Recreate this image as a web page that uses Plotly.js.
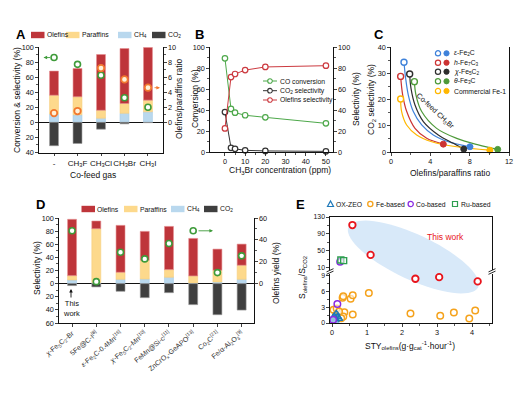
<!DOCTYPE html>
<html><head><meta charset="utf-8">
<script src="https://cdn.plot.ly/plotly-3.0.1.min.js"></script>
<style>html,body{margin:0;padding:0;background:#fff}#chart{width:523px;height:393px}</style>
</head><body><div id="chart"></div>
<script>
// ---------- Panel A data ----------
const aCats = ['-', 'CH3F', 'CH3Cl', 'CH3Br', 'CH3I'];
const aTickText = ['-', 'CH<sub>3</sub>F', 'CH<sub>3</sub>Cl', 'CH<sub>3</sub>Br', 'CH<sub>3</sub>I'];
const aCH4 = [11, 10, 5.5, 12, 14];
const aParaffins = [25, 24, 10.5, 13, 15.5];
const aOlefins = [32, 37.5, 74, 73, 70];
const aCO2 = [-31, -28, -9, -2, -0.4];
const aConversion = [86, 77, 62.6, 32.6, 20];
const aRatio = [1.23, 1.5, 7.2, 5.7, 4.6];

// ---------- Panel B data ----------
const bConc = [0, 3, 5, 10, 20, 50];
const bCOconv = [89.2, 41, 37.5, 35, 33, 27.3];
const bCO2sel = [38, 4, 3, 1.6, 1, 0.6];
const bOlefSel = [22.5, 71.4, 74.3, 78, 81, 82.2];

// ---------- Panel C data (curves; first = no CH3Br, last = co-feed CH3Br) ----------
const cEpsX = [1.32, 1.49, 1.76, 2.27, 3.12, 4.3, 5.83, 8.03];
const cEpsY = [34.2, 28.1, 21.7, 15.4, 10.3, 6.5, 3.9, 2.0];
const cHX = [0.98, 1.19, 1.6, 2.44, 3.63, 5.32];
const cHY = [28.8, 21.7, 15.4, 9.0, 5.2, 3.0];
const cChiX = [1.9, 2.03, 2.44, 3.29, 4.81, 6.34, 7.4];
const cChiY = [29.7, 24.3, 17.9, 11.6, 6.5, 3.3, 1.1];
const cThetaX = [2.38, 2.54, 3.12, 4.64, 6.68, 8.88, 10.85];
const cThetaY = [26.8, 21.7, 15.4, 9.0, 5.2, 2.7, 1.0];
const cComX = [0.98, 1.08, 1.59, 2.61, 4.14, 6.68, 10.05];
const cComY = [20.2, 15.4, 10.3, 6.5, 3.9, 2.0, 0.7];
const cLabels = ['<i>ε</i>-Fe<sub>2</sub>C', '<i>h</i>-Fe<sub>7</sub>C<sub>3</sub>', '<i>χ</i>-Fe<sub>5</sub>C<sub>2</sub>', '<i>θ</i>-Fe<sub>3</sub>C', 'Commercial Fe-1'];

// ---------- Panel D data ----------
const dCats = ['c1','c2','c3','c4','c5','c6','c7','c8'];
const dTickText = ['<i>χ</i>-Fe<sub>5</sub>C<sub>2</sub>-Br', '5Fe@C-I<sup>[8]</sup>', '<i>ε</i>-Fe<sub>2</sub>C-0.4Mn<sup>[16]</sup>', '<i>χ</i>-Fe<sub>5</sub>C<sub>2</sub>-Mn<sup>[10]</sup>', 'FeMn@Si-c<sup>[11]</sup>', 'ZnCrO<sub>x</sub>-GeAPO<sup>[13]</sup>', 'Co<sub>2</sub>C<sup>[21]</sup>', 'Fe/α-Al<sub>2</sub>O<sub>3</sub><sup>[9]</sup>'];
const dCH4 = [5.6, 1.5, 6.6, 7.1, 9.7, 1, 2.5, 6.6];
const dParaffins = [6.6, 82.2, 10.7, 28.6, 11.7, 10.7, 17.9, 21.4];
const dOlefins = [85.8, 11.7, 71.5, 43.9, 65.8, 57.2, 32.2, 32.2];
const dCO2 = [-3, -5, -11.7, -21.4, -13.8, -32, -47.4, -40.3];
const dYield = [48.3, 1.8, 28.7, 22.6, 36.7, 48.3, 10.1, 25.4];

// ---------- Panel E data ----------
const eOxX = [0.12, 0.16, 0.08, 0.03, 0.2, 0.06, 0.1];
const eOxY = [1.8, 1.2, 1.0, 0.7, 0.8, 1.3, 0.5];
const eFeX = [0.30, 0.32, 0.53, 0.59, 1.05, 0.04, 0.13, 0.35, 0.59, 2.24, 3.09, 3.48, 3.92, 4.09, 0.32, 0.26, 0.11, 0.2];
const eFeY = [4.8, 5.1, 4.6, 5.25, 5.7, 2.5, 2.75, 2.06, 1.6, 1.8, 1.37, 2.0, 0.87, 2.38, 1.25, 0.9, 1.5, 2.2];
const eCoX = [0.15, 0.03, 0.23];
const eCoY = [3.6, 0.6, 24.5];
const eRuX = [0.25, 0.33];
const eRuY = [28.5, 27];
const eThisX = [0.58, 1.10, 2.38, 3.06, 4.16];
const eThisY = [111, 40.4, 8.4, 8.7, 7.9];

// ---------- helpers ----------
const W = 523, H = 393;
const fx = p => p / W;
const fy = p => 1 - p / H;
const dX = (a, b) => [fx(a), fx(b)];
const dY = (top, bottom) => [fy(bottom), fy(top)];
const FONT = 'Liberation Sans, Arial, sans-serif';
const tickFont = {family: FONT, size: 7.3, color: '#111'};
const COL = {ole: '#BE353A', par: '#FDD98C', ch4: '#B9D8EE', co2: '#3F3F3F', green: '#3E9B3A', orange: '#F2782E'};
function ax(extra) {
  return Object.assign({showgrid: false, zeroline: false, showline: true, linecolor: '#111', linewidth: 1,
    ticks: 'outside', ticklen: 2.6, tickwidth: 0.8, tickcolor: '#111', tickfont: tickFont, fixedrange: true}, extra);
}
const minor = vals => ({tickmode: 'array', tickvals: vals, ticks: 'outside', ticklen: 1.6, tickwidth: 0.7, tickcolor: '#111'});
const range = (a, b, s) => { const r = []; for (let v = a; v <= b + 1e-9; v += s) r.push(+v.toFixed(4)); return r; };

const traces = [];
function bar(x, y, xa, ya, w, color, lc) {
  traces.push({type: 'bar', x, y, xaxis: xa, yaxis: ya, width: w, marker: {color, line: {color: lc, width: 0.6}}, hoverinfo: 'none'});
}
// A bars
bar(aCats, aCH4, 'x', 'y', 0.38, COL.ch4, '#a6cbe6');
bar(aCats, aParaffins, 'x', 'y', 0.38, COL.par, '#f6cf7e');
bar(aCats, aOlefins, 'x', 'y', 0.38, COL.ole, '#e58d90');
bar(aCats, aCO2, 'x', 'y', 0.38, COL.co2, '#9a9a9a');
traces.push({type: 'scatter', mode: 'markers', x: aCats, y: aConversion, xaxis: 'x', yaxis: 'y', cliponaxis: false,
  marker: {size: 6, color: '#fff', line: {color: COL.green, width: 1.6}}});
traces.push({type: 'scatter', mode: 'markers', x: aCats, y: aRatio, xaxis: 'x', yaxis: 'y2', cliponaxis: false,
  marker: {size: 6.5, color: '#FFF1D8', line: {color: COL.orange, width: 1.8}}});

// B lines
const bSeries = [[bCOconv, '#4DA84A', 'y3'], [bCO2sel, '#333333', 'y3'], [bOlefSel, '#CC3A40', 'y4']];
bSeries.forEach(([ys, c, ya]) => traces.push({type: 'scatter', mode: 'lines+markers', x: bConc, y: ys, xaxis: 'x2', yaxis: ya, cliponaxis: false,
  line: {color: c, width: 1}, marker: {size: 5.5, color: '#fff', line: {color: c, width: 1.2}}}));

// C curves
const cSeries = [[cEpsX, cEpsY, '#3F82DA'], [cHX, cHY, '#CC3333'], [cChiX, cChiY, '#2E2E2E'], [cThetaX, cThetaY, '#4E9A3A'], [cComX, cComY, '#FFB700']];
cSeries.forEach(([xs, ys, c]) => {
  traces.push({type: 'scatter', mode: 'lines', x: xs, y: ys, xaxis: 'x3', yaxis: 'y5', line: {color: c, width: 1.2, shape: 'spline', smoothing: 1}});
});
cSeries.forEach(([xs, ys, c]) => {
  traces.push({type: 'scatter', mode: 'markers', x: [xs[0]], y: [ys[0]], xaxis: 'x3', yaxis: 'y5', cliponaxis: false,
    marker: {size: 6, color: '#fff', line: {color: c, width: 1.4}}});
  traces.push({type: 'scatter', mode: 'markers', x: [xs[xs.length - 1]], y: [ys[ys.length - 1]], xaxis: 'x3', yaxis: 'y5', cliponaxis: false,
    marker: {size: 6, color: c, line: {color: c, width: 1}}});
});

// D bars
bar(dCats, dCH4, 'x4', 'y6', 0.37, COL.ch4, '#a6cbe6');
bar(dCats, dParaffins, 'x4', 'y6', 0.37, COL.par, '#f6cf7e');
bar(dCats, dOlefins, 'x4', 'y6', 0.37, COL.ole, '#e58d90');
bar(dCats, dCO2, 'x4', 'y6', 0.37, COL.co2, '#9a9a9a');
traces.push({type: 'scatter', mode: 'markers', x: dCats, y: dYield, xaxis: 'x4', yaxis: 'y7', cliponaxis: false,
  marker: {size: 6, color: '#fff', line: {color: COL.green, width: 1.6}}});

// E scatter (split across the broken axis)
const eBreak = 9.5;
function eAdd(xs, ys, marker) {
  const lo = {x: [], y: []}, hi = {x: [], y: []};
  xs.forEach((x, i) => { const t = ys[i] > eBreak ? hi : lo; t.x.push(x); t.y.push(ys[i]); });
  if (lo.x.length) traces.push({type: 'scatter', mode: 'markers', x: lo.x, y: lo.y, xaxis: 'x5', yaxis: 'y8', cliponaxis: false, marker});
  if (hi.x.length) traces.push({type: 'scatter', mode: 'markers', x: hi.x, y: hi.y, xaxis: 'x6', yaxis: 'y9', cliponaxis: false, marker});
}
eAdd(eFeX, eFeY, {size: 6.5, symbol: 'circle', color: 'rgba(255,255,255,0.6)', line: {color: '#F5A21B', width: 1.5}});
eAdd(eOxX, eOxY, {size: 6.5, symbol: 'triangle-up', color: 'rgba(40,140,190,0.45)', line: {color: '#1E78B8', width: 1.2}});
eAdd(eCoX, eCoY, {size: 6.5, symbol: 'circle', color: 'rgba(255,255,255,0.5)', line: {color: '#8A2BE2', width: 1.5}});
eAdd(eRuX, eRuY, {size: 6, symbol: 'square', color: 'rgba(255,255,255,0.5)', line: {color: '#2E9E50', width: 1.4}});
eAdd(eThisX, eThisY, {size: 6.5, symbol: 'circle', color: '#fff', line: {color: '#E8141C', width: 1.8}});

// ---------- shapes & annotations ----------
const shapes = [];
const ann = [];
// ellipse in panel E
(function () {
  const cx = 413.3, cy = 257, a = 71.5, b = 22.5, th = 25 * Math.PI / 180;
  let p = '';
  for (let i = 0; i <= 72; i++) {
    const t = i / 72 * 2 * Math.PI;
    const px = cx + a * Math.cos(t) * Math.cos(th) - b * Math.sin(t) * Math.sin(th);
    const py = cy + a * Math.cos(t) * Math.sin(th) + b * Math.sin(t) * Math.cos(th);
    p += (i ? ' L ' : 'M ') + fx(px).toFixed(5) + ' ' + fy(py).toFixed(5);
  }
  shapes.push({type: 'path', xref: 'paper', yref: 'paper', path: p + ' Z', fillcolor: '#D8E9F9', line: {width: 0}, layer: 'below'});
})();
function txt(x, y, t, o) {
  o = o || {};
  ann.push({xref: 'paper', yref: 'paper', x: fx(x), y: fy(y), text: t, showarrow: false,
    xanchor: o.xa || 'left', yanchor: 'middle', textangle: o.ang || 0, borderpad: 0,
    font: {family: FONT, size: o.size || 6.8, color: o.color || '#111'}});
}
function rectSw(x0, x1, yc, color) {
  shapes.push({type: 'rect', xref: 'paper', yref: 'paper', x0: fx(x0), x1: fx(x1), y0: fy(yc + 3.2), y1: fy(yc - 3.2), fillcolor: color, line: {width: 0}});
}
function circ(xc, yc, r, fill, lc, lw) {
  shapes.push({type: 'circle', xref: 'paper', yref: 'paper', x0: fx(xc - r), x1: fx(xc + r), y0: fy(yc + r), y1: fy(yc - r), fillcolor: fill, line: {color: lc, width: lw || 1.2}});
}
function seg(x0, y0, x1, y1, c, w) {
  shapes.push({type: 'line', xref: 'paper', yref: 'paper', x0: fx(x0), x1: fx(x1), y0: fy(y0), y1: fy(y1), line: {color: c, width: w || 1}});
}
// Panel letters
[['A', 21, 35], ['B', 199, 34], ['C', 379, 34], ['D', 40, 204], ['E', 300, 204]].forEach(([l, x, y]) =>
  txt(x, y, '<b>' + l + '</b>', {xa: 'center', size: 13, color: '#000'}));

// Legend A and D
const barLeg = (xs, y) => {
  const names = ['Olefins', 'Paraffins', 'CH<sub>4</sub>', 'CO<sub>2</sub>'];
  const cols = [COL.ole, COL.par, COL.ch4, COL.co2];
  xs.forEach((x, i) => { rectSw(x, x + 13.5, y, cols[i]); txt(x + 14.5, y, names[i]); });
};
barLeg([31, 66, 118, 152], 35);
barLeg([81.5, 124, 171, 204], 209);

// Legend B
const bNames = ['CO conversion', 'CO<sub>2</sub> selectivity', 'Olefins selectivity'];
[['#4DA84A', 81], ['#333333', 90.7], ['#CC3A40', 100]].forEach(([c, y], i) => {
  seg(263, y, 277, y, c, 1); circ(270, y, 2.3, '#fff', c, 1.1); txt(279, y, bNames[i]);
});
// Legend C
cSeries.forEach(([xs, ys, c], i) => {
  const y = [53.3, 62.7, 71.7, 81.3, 91][i];
  circ(438, y, 2.6, '#fff', c, 1.2); circ(446.5, y, 2.6, c, c, 1); txt(452.5, y, cLabels[i]);
});
// Legend E
(function () {
  const y = 204;
  shapes.push({type: 'path', xref: 'paper', yref: 'paper', path: `M ${fx(327.5)} ${fy(206.5)} L ${fx(333.5)} ${fy(206.5)} L ${fx(330.5)} ${fy(201)} Z`, fillcolor: 'rgba(0,0,0,0)', line: {color: '#1E78B8', width: 1.2}});
  txt(335, y, 'OX-ZEO');
  circ(370.3, y, 2.6, '#fff', '#F5A21B', 1.3); txt(374.5, y, 'Fe-based');
  circ(410.7, y, 2.6, '#fff', '#8A2BE2', 1.3); txt(415, y, 'Co-based');
  shapes.push({type: 'rect', xref: 'paper', yref: 'paper', x0: fx(452.5), x1: fx(457.5), y0: fy(206.5), y1: fy(201.5), fillcolor: '#fff', line: {color: '#2E9E50', width: 1.2}});
  txt(459.5, y, 'Ru-based');
})();
// E break marks
[330, 492].forEach(x => { seg(x - 3.5, 271.9, x + 3.5, 268.7, '#111', 0.9); seg(x - 3.5, 274.3, x + 3.5, 271.1, '#111', 0.9); });

// Axis titles
const T = 8.5;
txt(17, 100, 'Conversion & selectivity (%)', {xa: 'center', ang: -90, size: T});
txt(179, 99, 'Olefins/paraffins ratio', {xa: 'center', ang: -90, size: T});
txt(93, 175, 'Co-feed gas', {xa: 'center', size: T});
txt(195, 99, 'Conversion (%)', {xa: 'center', ang: -90, size: T});
txt(356, 99, 'Selectivity (%)', {xa: 'center', ang: -90, size: T});
txt(280, 170.5, 'CH<sub>3</sub>Br concentration (ppm)', {xa: 'center', size: T});
txt(371, 100, 'CO<sub>2</sub> selectivity (%)', {xa: 'center', ang: -90, size: T});
txt(450, 172.5, 'Olefins/paraffins ratio', {xa: 'center', size: T});
txt(37, 268, 'Selectivity (%)', {xa: 'center', ang: -90, size: T});
txt(276, 273, 'Olefins yield (%)', {xa: 'center', ang: -90, size: T});
txt(302, 278, 'S<sub>olefins</sub>/S<sub>CO2</sub>', {xa: 'center', ang: -90, size: T});
txt(410, 345, 'STY<sub>olefins</sub>(g·g<sub>cat</sub><sup>-1</sup>·hour<sup>-1</sup>)', {xa: 'center', size: T});
// other texts
txt(445, 237, 'This work', {xa: 'center', size: 8.5, color: '#E8141C'});
txt(435, 111, 'Co-feed CH<sub>3</sub>Br', {xa: 'center', ang: 43, size: 7.2});
txt(71.5, 308, 'This<br>work', {xa: 'center', size: 7.5});

// arrows
function arrow(o) {
  ann.push(Object.assign({text: '', showarrow: true, arrowhead: 2, arrowsize: 0.8, arrowwidth: 0.9, ay: 0}, o));
}
arrow({xref: 'paper', yref: 'y', x: fx(43.5), y: aConversion[0], ax: 8, arrowcolor: COL.green});
arrow({xref: 'paper', yref: 'y2', x: fx(160), y: aRatio[4], ax: -7, arrowcolor: COL.orange});
arrow({xref: 'paper', yref: 'y7', x: fx(213), y: dYield[5], ax: -16, arrowcolor: COL.green});
arrow({xref: 'paper', yref: 'paper', x: fx(71), y: fy(289), ax: 0, ay: 10, arrowcolor: '#111'});

const eTick = {family: FONT, size: 6.9, color: '#111'};
const layout = {
  width: W, height: H, margin: {l: 0, r: 0, t: 0, b: 0}, showlegend: false, barmode: 'relative', bargap: 0,
  paper_bgcolor: '#fff', plot_bgcolor: 'rgba(0,0,0,0)', font: {family: FONT, size: 8, color: '#111'},
  // A
  xaxis: ax({domain: dX(39, 163), anchor: 'y', type: 'category', range: [-0.64, 4.64], tickmode: 'array', tickvals: aCats, ticktext: aTickText, tickangle: 0, tickfont: {family: FONT, size: 8, color: '#111'}}),
  yaxis: ax({domain: dY(47, 152.5), anchor: 'x', range: [-40, 100], tickmode: 'array', tickvals: range(-40, 100, 20), ticktext: range(-40, 100, 20).map(v => String(Math.abs(v))),
    minor: minor(range(-30, 90, 20)), zeroline: true, zerolinecolor: '#111', zerolinewidth: 1}),
  yaxis2: ax({overlaying: 'y', side: 'right', anchor: 'x', range: [-4, 10], tickmode: 'array', tickvals: range(0, 10, 2), minor: minor(range(1, 9, 2))}),
  // B
  xaxis2: ax({domain: dX(210, 333), anchor: 'y3', range: [-7.4, 53.5], tickmode: 'array', tickvals: range(0, 50, 10), minor: minor(range(5, 45, 10))}),
  yaxis3: ax({domain: dY(47, 152), anchor: 'x2', range: [0, 100], tickmode: 'array', tickvals: range(0, 100, 20), minor: minor(range(10, 90, 20))}),
  yaxis4: ax({overlaying: 'y3', side: 'right', anchor: 'x2', range: [0, 100], tickmode: 'array', tickvals: range(0, 100, 20), minor: minor(range(10, 90, 20))}),
  // C
  xaxis3: ax({domain: dX(391, 509), anchor: 'y5', range: [0, 12], tickmode: 'array', tickvals: [0, 4, 8, 12], minor: minor([2, 6, 10])}),
  yaxis5: ax({domain: dY(47, 152), anchor: 'x3', range: [0, 40], tickmode: 'array', tickvals: range(0, 40, 10), minor: minor([5, 15, 25, 35]), mirror: true}),
  // D
  xaxis4: ax({domain: dX(59, 254), anchor: 'y6', type: 'category', range: [-0.54, 7.51], tickmode: 'array', tickvals: dCats, ticktext: dTickText, tickangle: -40,
    tickfont: {family: FONT, size: 7, color: '#333'}}),
  yaxis6: ax({domain: dY(218, 323), anchor: 'x4', range: [-60, 100], tickmode: 'array', tickvals: range(-60, 100, 20), ticktext: range(-60, 100, 20).map(v => String(Math.abs(v))),
    minor: minor(range(-50, 90, 20)), zeroline: true, zerolinecolor: '#111', zerolinewidth: 1}),
  yaxis7: ax({overlaying: 'y6', side: 'right', anchor: 'x4', range: [-36, 60], tickmode: 'array', tickvals: [0, 20, 40, 60], minor: minor([10, 30, 50])}),
  // E
  xaxis5: ax({domain: dX(330, 492), anchor: 'y8', range: [-0.06, 4.57], tickmode: 'array', tickvals: [0, 1, 2, 3, 4], minor: minor([0.5, 1.5, 2.5, 3.5, 4.5])}),
  yaxis8: ax({domain: dY(273.5, 323), anchor: 'x5', range: [0, 9.4], tickmode: 'array', tickvals: [0, 3, 6, 9], minor: minor([1.5, 4.5, 7.5]), mirror: true, tickfont: eTick}),
  xaxis6: ax({domain: dX(330, 492), anchor: 'y9', range: [-0.06, 4.57], side: 'top', ticks: '', showticklabels: false}),
  yaxis9: ax({domain: dY(217, 269.5), anchor: 'x6', range: [6, 130], tickmode: 'array', tickvals: [10, 50, 90, 130], minor: minor([30, 70, 110]), mirror: true, tickfont: eTick}),
  shapes, annotations: ann
};
Plotly.newPlot('chart', traces, layout, {staticPlot: true, displayModeBar: false});
</script>
</body></html>
